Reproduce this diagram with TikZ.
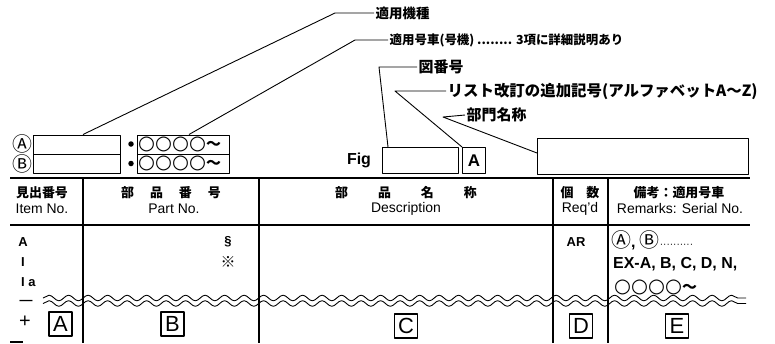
\documentclass[tikz,border=0pt]{standalone}
\usepackage{fontspec}
\setmainfont{Liberation Sans}
\newfontfamily\jp{Noto Sans CJK JP}
\newfontfamily\dv{DejaVu Sans}
\usetikzlibrary{decorations.pathmorphing}

\tikzset{
  frame/.style={draw, line width=1.1pt, inner sep=0pt, anchor=north west},
  lbl/.style={anchor=west, inner sep=1.5bp, font=\jp\bfseries\fontsize{14}{14}\selectfont},
  hd/.style={inner sep=0pt, font=\jp\bfseries\fontsize{13}{13}\selectfont},
  en/.style={inner sep=0pt, font=\fontsize{14}{14}\selectfont},
  bd/.style={inner sep=0pt, font=\bfseries\fontsize{13}{13}\selectfont},
  rm/.style={anchor=west, inner sep=0pt, font=\bfseries\fontsize{16}{16}\selectfont},
  letterbox/.style={draw, line width=1.2pt, inner sep=0pt, minimum width=23bp, minimum height=24bp, font=\fontsize{22}{22}\selectfont},
  wave/.style={decorate, decoration={snake, segment length=19.5bp, amplitude=2.8bp}, line width=0.9pt},
  rule/.style={line width=1.3pt},
}
\newcommand\rings{{\dv\bfseries\fontsize{19.5}{19.5}\selectfont ○○○○}{\jp\bfseries\fontsize{15}{15}\selectfont ～}}
\newcommand\encA{{\jp\mdseries\fontsize{20}{20}\selectfont Ⓐ}}
\newcommand\encB{{\jp\mdseries\fontsize{20}{20}\selectfont Ⓑ}}

\begin{document}
\begin{tikzpicture}[x=1bp, y=-1bp, line join=round]
  \useasboundingbox (0,0) rectangle (775,343);

  % boxes above the table
  \node[frame, minimum width=87bp, minimum height=19.5bp] (kishuA) at (33,134.5) {};
  \node[frame, minimum width=87bp, minimum height=19bp] (kishuB) at (33,154) {};
  \node[frame, minimum width=92bp, minimum height=19.5bp] (gokiA) at (137,134.5) {};
  \node[frame, minimum width=92bp, minimum height=19bp] (gokiB) at (137,154) {};
  \node[inner sep=0pt] (cA) at (22,144) {\encA};
  \node[inner sep=0pt] (cB) at (22,163.5) {\encB};
  \node[circle, fill, inner sep=0pt, minimum size=5.5bp] (dotA) at (131,144) {};
  \node[circle, fill, inner sep=0pt, minimum size=5.5bp] (dotB) at (131,163.5) {};
  \node[anchor=west, inner sep=0pt] (oA) at (138,144) {\rings};
  \node[anchor=west, inner sep=0pt] (oB) at (138,163.5) {\rings};

  \node[inner sep=0pt, font=\bfseries\fontsize{16}{16}\selectfont] (fig) at (359,160) {Fig};
  \node[frame, minimum width=76bp, minimum height=26bp] (figbox) at (382,147) {};
  \node[frame, minimum width=23bp, minimum height=26bp, font=\bfseries\fontsize{17}{17}\selectfont] (revbox) at (462,147) {A};
  \node[frame, minimum width=211bp, minimum height=36bp] (deptbox) at (537,138) {};

  % leader labels
  \node[lbl, font=\jp\bfseries\fontsize{13.5}{14}\selectfont] (kishu) at (374,13) {適用機種};
  \node[lbl, font=\jp\bfseries\fontsize{12.5}{14}\selectfont] (goki) at (388,40) {適用号車(号機) ........ 3項に詳細説明あり};
  \node[lbl, font=\jp\bfseries\fontsize{15}{16}\selectfont] (fignum) at (417,67) {図番号};
  \node[lbl, font=\jp\bfseries\fontsize{15.5}{16}\selectfont] (rev) at (446,91) {リスト改訂の追加記号(アルファベットA～Z)};
  \node[lbl, font=\jp\bfseries\fontsize{15}{16}\selectfont] (dept) at (465,115) {部門名称};
  \coordinate (k1) at (335,13);
  \coordinate (g1) at (355,40);
  \coordinate (f1) at (379,67);
  \coordinate (r1) at (395,91);
  \coordinate (d1) at (443,117);
  \draw[line width=0.9pt] ([xshift=50bp]kishuA.north west) -- (k1) -- (kishu.west);
  \draw[line width=0.9pt] ([xshift=52bp]gokiA.north west) -- (g1) -- (goki.west);
  \draw[line width=0.9pt] ([xshift=6bp]figbox.north west) -- (f1) -- (fignum.west);
  \draw[line width=0.9pt] (revbox.north west) -- (r1) -- (rev.west);
  \draw[line width=0.9pt] ([yshift=-15bp]deptbox.north west) -- (d1) -- (dept.west);

  % table
  \draw[rule] (10,178) -- (750,178);
  \draw[rule] (10,225) -- (750,225);
  \draw[rule] (10,342) -- (23,342);
  \foreach \cx in {83,259,553,608}
    \draw[rule] (\cx,178) -- (\cx,343);

  \node[hd] (h1) at (42,193) {見出番号};
  \node[en] (e1) at (42,209) {Item No.};
  \node[hd] (h2) at (171,193) {部\hspace{16bp}品\hspace{16bp}番\hspace{16bp}号};
  \node[en] (e2) at (174,209) {Part No.};
  \node[hd] (h3) at (406,193) {部\hspace{30bp}品\hspace{30bp}名\hspace{30bp}称};
  \node[en] (e3) at (406,209) {Description};
  \node[hd] (h4) at (580,193) {個\hspace{13bp}数};
  \node[en] (e4) at (580,209) {Req'd};
  \node[hd] (h5) at (679,193) {備考：適用号車};
  \node[en] (e5) at (680,209) {Remarks: Serial No.};

  % body
  \node[bd] (r1a) at (23,242) {A};
  \node[bd] (r1b) at (23,262) {I};
  \node[bd, anchor=west] (r1c) at (21,282) {I a};
  \node[bd] (r1d) at (26,302) {—};
  \node[inner sep=0pt, font=\fontsize{20}{20}\selectfont] (r1e) at (25,322) {+};
  \node[bd] (r2a) at (228,242) {§};
  \node[inner sep=0pt, font=\jp\bfseries\fontsize{15}{15}\selectfont] (r2b) at (228,262) {※};
  \node[bd] (r4a) at (576,242) {AR};
  \node[rm] (r5a) at (611,240) {\encA, \encB{\fontsize{10}{10}\selectfont\mdseries ··········}};
  \node[rm] (r5b) at (613,264) {EX-A, B, C, D, N,};
  \node[anchor=west, inner sep=0pt] (r5c) at (614,287) {\rings};

  % break lines
  \draw[wave] (43,298) -- (746,298);
  \draw[wave] (43,303.5) -- (746,303.5);

  \node[letterbox] (colA) at (60.5,324) {A};
  \node[letterbox] (colB) at (172.5,324) {B};
  \node[letterbox] (colC) at (406,326) {C};
  \node[letterbox] (colD) at (581,326) {D};
  \node[letterbox] (colE) at (677,326) {E};
\end{tikzpicture}
\end{document}
